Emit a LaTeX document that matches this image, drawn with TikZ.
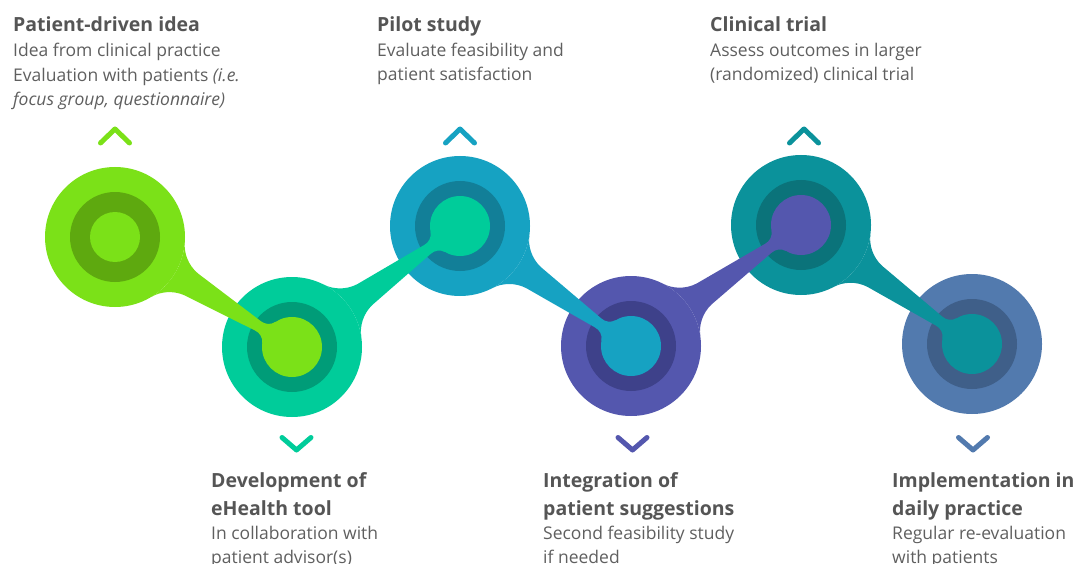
\documentclass[tikz,border=0pt]{standalone}
\usepackage{fontspec}
\setmainfont{Open Sans}
\definecolor{cA}{HTML}{7BE118}\definecolor{rA}{HTML}{5EA90F}
\definecolor{cB}{HTML}{00CC9A}\definecolor{rB}{HTML}{009C78}
\definecolor{cC}{HTML}{16A2C2}\definecolor{rC}{HTML}{127F98}
\definecolor{cD}{HTML}{5457AE}\definecolor{rD}{HTML}{3E418A}
\definecolor{cE}{HTML}{0B929B}\definecolor{rE}{HTML}{0B737A}
\definecolor{cF}{HTML}{527AAE}\definecolor{rF}{HTML}{3F5F89}
\definecolor{ttl}{HTML}{555555}
\definecolor{bdy}{HTML}{5F5F5F}
\tikzset{
  titletext/.style={anchor=base west, inner sep=0pt, text=ttl, font=\fontsize{19.5}{23}\selectfont\bfseries},
  bodytext/.style={anchor=base west, inner sep=0pt, text=bdy, font=\fontsize{17.5}{21}\selectfont},
  chev/.style={line width=5pt, line cap=round, line join=round}
}
\begin{document}
\begin{tikzpicture}[x=1pt,y=-1pt]
\useasboundingbox (0,0) rectangle (1075,564);
\coordinate (c1) at (115,237);
\coordinate (c2) at (292,347);
\coordinate (c3) at (460,226);
\coordinate (c4) at (631,346);
\coordinate (c5) at (801,225);
\coordinate (c6) at (972,344);
% outer discs and rings
\foreach \i/\col in {1/A,2/B,3/C,4/D,5/E,6/F}{
  \fill[c\col] (c\i) circle (70);
  \fill[r\col] (c\i) circle (45);
}
\fill[cA] (c1) circle (25);
% tails
\foreach \xa/\ya/\xb/\yb/\col in {115/237/292/347/A, 292/347/460/226/B, 460/226/631/346/C, 631/346/801/225/D, 801/225/972/344/E}{
  \pgfmathsetmacro\ang{atan2(\yb-\ya,\xb-\xa)}
  \pgfmathsetmacro\dd{veclen(\xb-\xa,\yb-\ya)}
  \begin{scope}[shift={(\xa,\ya)}, rotate=-\ang]
    \fill[c\col] (62.4,31.8) .. controls (67,22.9) and (77,14.5) .. (90,12.8)
      -- (\dd-40,5.5) .. controls (\dd-35,4.9) and (\dd-29.7,7.3) .. (\dd-27.2,12.7)
      -- (\dd-27.2,-12.7) .. controls (\dd-29.7,-7.3) and (\dd-35,-4.9) .. (\dd-40,-5.5)
      -- (90,-12.8) .. controls (77,-14.5) and (67,-22.9) .. (62.4,-31.8)
      arc[start angle=-27, end angle=27, radius=70] -- cycle;
  \end{scope}
}
% inner discs in the colour of the previous step
\fill[cA] (c2) circle (30);
\fill[cB] (c3) circle (30);
\fill[cC] (c4) circle (30);
\fill[cD] (c5) circle (30);
\fill[cE] (c6) circle (30);
% chevrons
\draw[chev, cA] (100.5,143) -- (115,129) -- (129.5,143);
\draw[chev, cC] (445.5,143) -- (460,129) -- (474.5,143);
\draw[chev, cE] (789.5,143) -- (804,129) -- (818.5,143);
\draw[chev, cB] (282,437.5) -- (296.5,450) -- (311,437.5);
\draw[chev, cD] (618,437.5) -- (632.5,450) -- (647,437.5);
\draw[chev, cF] (958.5,437.5) -- (973,450) -- (987.5,437.5);
% texts
\node[titletext] (t1) at (13,32) {Patient-driven idea};
\node[bodytext] (t1a) at (13,57) {Idea from clinical practice};
\node[bodytext] (t1b) at (13,82) {Evaluation with patients \textit{(i.e.}};
\node[bodytext] (t1c) at (13,106) {\textit{focus group, questionnaire)}};
\node[titletext] (t3) at (377,32) {Pilot study};
\node[bodytext] (t3a) at (377,57) {Evaluate feasibility and};
\node[bodytext] (t3b) at (377,81) {patient satisfaction};
\node[titletext] (t5) at (710,32) {Clinical trial};
\node[bodytext] (t5a) at (710,57) {Assess outcomes in larger};
\node[bodytext] (t5b) at (710,81) {(randomized) clinical trial};
\node[titletext] (t2) at (211,487) {Development of};
\node[titletext] (t2x) at (211,515) {eHealth tool};
\node[bodytext] (t2a) at (211,539) {In collaboration with};
\node[bodytext] (t2b) at (211,563) {patient advisor(s)};
\node[titletext] (t4) at (543,487) {Integration of};
\node[titletext] (t4x) at (543,515) {patient suggestions};
\node[bodytext] (t4a) at (543,539) {Second feasibility study};
\node[bodytext] (t4b) at (543,563) {if needed};
\node[titletext] (t6) at (892,487) {Implementation in};
\node[titletext] (t6x) at (892,515) {daily practice};
\node[bodytext] (t6a) at (892,539) {Regular re-evaluation};
\node[bodytext] (t6b) at (892,563) {with patients};
\end{tikzpicture}
\end{document}
